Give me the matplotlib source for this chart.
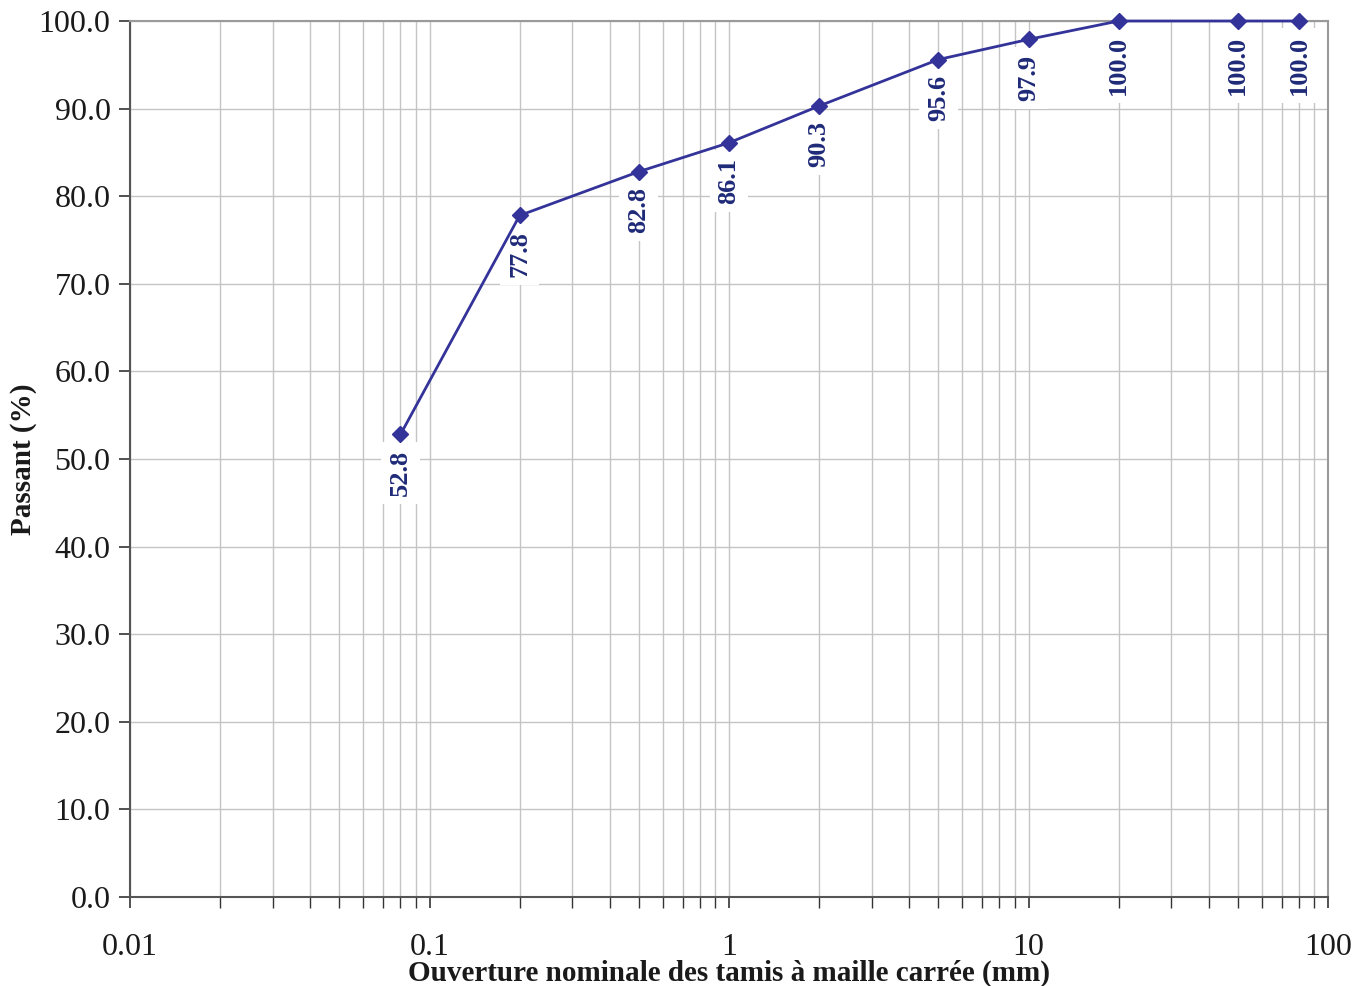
import matplotlib.pyplot as plt
from matplotlib.ticker import FixedLocator, LogLocator, NullFormatter, FuncFormatter

plt.rcParams['font.family'] = ['Liberation Serif', 'DejaVu Serif']

# tamis (mm) et passant cumulé (%)
ouverture = [0.08, 0.2, 0.5, 1, 2, 5, 10, 20, 50, 80]
passant = [52.8, 77.8, 82.8, 86.1, 90.3, 95.6, 97.9, 100.0, 100.0, 100.0]
x_ticks = [0.01, 0.1, 1, 10, 100]
x_tick_labels = ['0.01', '0.1', '1', '10', '100']

couleur = '#333399'

fig = plt.figure(figsize=(13.67, 9.86), dpi=100)
ax = fig.add_axes([130 / 1367, 1 - 897 / 986, 1198 / 1367, 876 / 986])

ax.set_xscale('log')
ax.set_xlim(0.01, 100)
ax.set_ylim(0, 100)

ax.plot(ouverture, passant, color=couleur, lw=2.0, marker='D', ms=8.5,
        clip_on=False, zorder=4)

for x, y in zip(ouverture, passant):
    ax.annotate('%.1f' % y, (x, y), xytext=(0, -11), textcoords='offset points',
                rotation=90, ha='center', va='top', fontsize=19, fontweight='bold',
                color='#1f2a78', zorder=3,
                bbox=dict(boxstyle='square,pad=0.3', fc='white', ec='none'))

ax.xaxis.set_major_locator(FixedLocator(x_ticks))
ax.xaxis.set_major_formatter(FuncFormatter(lambda v, p: x_tick_labels[x_ticks.index(v)] if v in x_ticks else ''))
ax.xaxis.set_minor_locator(LogLocator(base=10, subs=range(2, 10)))
ax.xaxis.set_minor_formatter(NullFormatter())
ax.set_yticks([i * 10 for i in range(11)])
ax.yaxis.set_major_formatter(FuncFormatter(lambda v, p: '%.1f' % v))

ax.grid(which='major', color='#c4c4c4', lw=1.0, zorder=0)
ax.grid(which='minor', axis='x', color='#c4c4c4', lw=1.0, zorder=0)
ax.set_axisbelow(True)

ax.tick_params(axis='both', which='major', direction='out', length=8, width=1.2,
               labelsize=23, colors='#333333', labelcolor='#1a1a1a')
ax.tick_params(axis='x', which='minor', direction='out', length=8, width=1.0, colors='#333333')
ax.tick_params(axis='x', which='major', pad=18)
ax.tick_params(axis='y', which='major', pad=6)

for s in ['top', 'right']:
    ax.spines[s].set_color('#9a9a9a')
    ax.spines[s].set_linewidth(1.5)
for s in ['left', 'bottom']:
    ax.spines[s].set_color('#555555')
    ax.spines[s].set_linewidth(1.5)

ax.set_xlabel('Ouverture nominale des tamis à maille carrée (mm)', fontsize=21,
              fontweight='bold', labelpad=-2, color='#1a1a1a')
ax.set_ylabel('Passant (%)', fontsize=21, fontweight='bold', labelpad=1, color='#1a1a1a')

fig.savefig('out.png', dpi=100)
